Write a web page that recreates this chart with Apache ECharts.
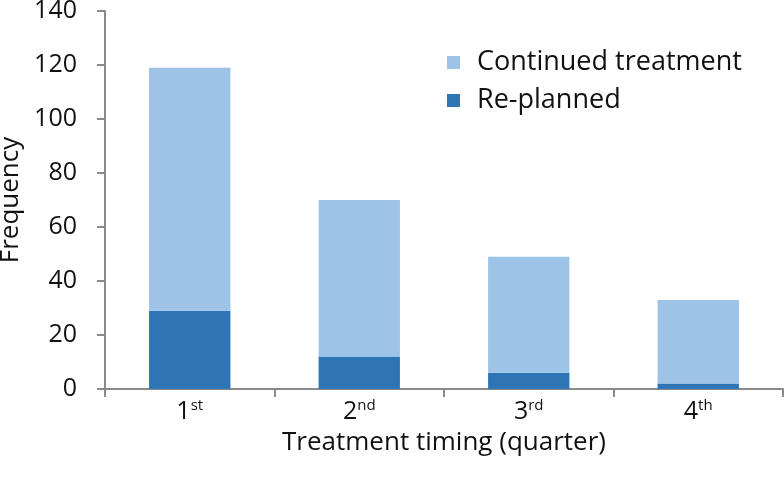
<!DOCTYPE html>
<html>
<head>
<meta charset="utf-8">
<script src="https://cdn.jsdelivr.net/npm/echarts@6/dist/echarts.min.js"></script>
<style>
  html, body { margin: 0; padding: 0; background: #fff; }
</style>
</head>
<body>
<div id="chart" style="width: 784px;height:480px;"></div>
<script>
const quarters = ['1st', '2nd', '3rd', '4th'];
const replanned = [29, 12, 6, 2];
const continued = [90, 58, 43, 31];
const yTicks = [0, 20, 40, 60, 80, 100, 120, 140];

const font = '"Open Sans", "DejaVu Sans", sans-serif';

const chart = echarts.init(document.getElementById('chart'));
const option = {
  animation: false,
  textStyle: { fontFamily: font },
  grid: {
    left: 105,
    right: 1,
    top: 11,
    bottom: 91,
    outerBoundsMode: 'none'
  },
  legend: {
    orient: 'vertical',
    left: 442,
    top: 44,
    itemWidth: 13,
    itemHeight: 13,
    itemGap: 11,
    icon: 'rect',
    data: ['Continued treatment', 'Re-planned'],
    textStyle: { fontSize: 27, color: '#111', fontFamily: font, padding: [0, 0, 0, 12] }
  },
  xAxis: {
    type: 'category',
    data: quarters,
    name: 'Treatment timing (quarter)',
    nameLocation: 'middle',
    nameGap: 33,
    nameTextStyle: { fontSize: 26, color: '#111', fontFamily: font },
    axisLine: { lineStyle: { color: '#8a8a8a', width: 2 } },
    axisTick: { show: true, length: 8, lineStyle: { color: '#8a8a8a', width: 2 } },
    axisLabel: {
      margin: 9,
      formatter: function (v) {
        return '{n|' + v.slice(0, 1) + '}{s|' + v.slice(1) + '}';
      },
      rich: {
        n: { fontSize: 25, color: '#111', fontFamily: font },
        s: { fontSize: 15, color: '#111', fontFamily: font, padding: [0, 0, 13, 0] }
      }
    }
  },
  yAxis: {
    type: 'value',
    min: yTicks[0],
    max: yTicks[yTicks.length - 1],
    interval: 20,
    name: 'Frequency',
    nameLocation: 'middle',
    nameGap: 79,
    nameTextStyle: { fontSize: 26, color: '#111', fontFamily: font },
    axisLine: { show: true, lineStyle: { color: '#8a8a8a', width: 2 } },
    axisTick: { show: true, length: 8, lineStyle: { color: '#8a8a8a', width: 2 } },
    splitLine: { show: false },
    axisLabel: { fontSize: 25, color: '#111', margin: 28, fontFamily: font }
  },
  series: [
    {
      name: 'Re-planned',
      type: 'bar',
      stack: 'total',
      barWidth: '48%',
      itemStyle: { color: '#2E75B6' },
      data: replanned
    },
    {
      name: 'Continued treatment',
      type: 'bar',
      stack: 'total',
      barWidth: '48%',
      itemStyle: { color: '#9DC3E6' },
      data: continued
    }
  ]
};
chart.setOption(option);
</script>
</body>
</html>
